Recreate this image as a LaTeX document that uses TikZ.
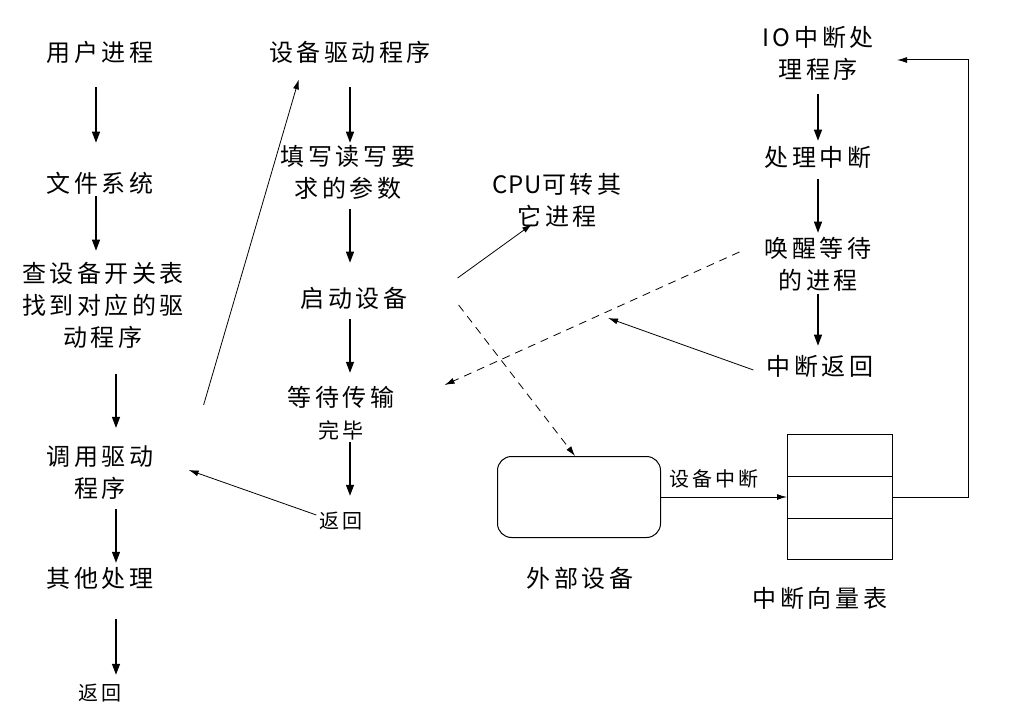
\documentclass[tikz,border=0pt]{standalone}
\usepackage{fontspec}
\usepackage{tikz}
\usetikzlibrary{positioning,arrows.meta,calc}
\newfontfamily\zh[LetterSpace=15]{Noto Sans CJK SC}

\begin{document}
\begin{tikzpicture}[x=1pt,y=-1pt,
      lbl/.style={font=\zh\fontsize{24}{32}\selectfont,align=center,inner sep=0pt},
      small/.style={lbl,font=\zh\fontsize{20}{26}\selectfont},
      arrow/.style={-{Triangle[length=11pt,width=8pt]},line width=1.3pt},
      thinarrow/.style={-{Latex[length=10pt,width=6pt]},line width=0.8pt},
      dasharrow/.style={thinarrow,dash pattern=on 8pt off 6pt}]
    \useasboundingbox (0,0) rectangle (1018,722);
    % user side
    \node[lbl] (u1) at (100,52) {用户进程};
    \node[lbl] (u2) at (100,183) {文件系统};
    \node[lbl] (u3) at (103,305) {查设备开关表\\找到对应的驱\\动程序};
    \node[lbl] (u4) at (100,473) {调用驱动\\程序};
    \node[lbl] (u5) at (100,578) {其他处理};
    \node[small] (u6) at (100,693) {返回};
    % driver
    \node[lbl] (d1) at (350,52) {设备驱动程序};
    \node[lbl] (d2) at (348,172) {填写读写要\\求的参数};
    \node[lbl] (d3) at (354,298) {启动设备};
    \node[lbl] (d4) at (341,413) {等待传输\\{\fontsize{21}{26}\selectfont 完毕}};
    \node[small] (d5) at (341,521) {返回};
    \node[lbl] (c1) at (557,200) {{\addfontfeature{LetterSpace=4}CPU}可转其\\它进程};
    % device and vector table
    \node[draw,rounded corners=14pt,minimum width=163pt,minimum height=81pt,line width=1pt] (ext) at (579,497) {};
    \node[lbl] (extlbl) at (580,578) {外部设备};
    \node[draw,minimum width=105pt,minimum height=125pt,line width=1pt] (tab) at (840,497) {};
    \draw[line width=1pt] ($(tab.north west)!1/3!(tab.south west)$) -- ($(tab.north east)!1/3!(tab.south east)$);
    \draw[line width=1pt] ($(tab.north west)!2/3!(tab.south west)$) -- ($(tab.north east)!2/3!(tab.south east)$);
    \node[lbl] (tablbl) at (820,598) {中断向量表};
    % interrupt handler
    \node[lbl] (i1) at (818,53) {IO中断处\\理程序};
    \node[lbl] (i2) at (818,157) {处理中断};
    \node[lbl] (i3) at (818,264) {唤醒等待\\的进程};
    \node[lbl] (i4) at (820,366) {中断返回};
    \coordinate (ret) at (608,318);

    \draw[arrow,shorten <=24pt,shorten >=29pt] ([xshift=-4pt]u1.south) -- ([xshift=-4pt]u2.north);
    \draw[arrow,shorten <=2pt,shorten >=11pt] ([xshift=-4pt]u2.south) -- ([xshift=-7pt]u3.north);
    \draw[arrow,shorten <=26pt,shorten >=18pt] ([xshift=13pt]u3.south) -- ([xshift=16pt]u4.north);
    \draw[arrow,shorten <=9pt,shorten >=4pt] ([xshift=16pt]u4.south) -- ([xshift=16pt]u5.north);
    \draw[arrow,shorten <=30pt,shorten >=9pt] ([xshift=16pt]u5.south) -- ([xshift=16pt]u6.north);

    \draw[arrow,shorten <=24pt,shorten >=2pt] (d1.south) -- (d2.north -| d1.south);
    \draw[arrow,shorten <=10pt,shorten >=24pt] (d2.south -| d1.south) -- (d3.north -| d1.south);
    \draw[arrow,shorten <=10pt,shorten >=13pt] (d3.south -| d1.south) -- (d4.north -| d1.south);
    \draw[arrow,shorten <=2pt,shorten >=16pt] (d4.south -| d1.south) -- (d5.north -| d1.south);

    \draw[arrow,shorten <=14pt,shorten >=5pt] (i1.south) -- (i2.north);
    \draw[arrow,shorten <=11pt,shorten >=4pt] (i2.south) -- (i3.north);
    \draw[arrow,shorten <=3pt,shorten >=9pt] (i3.south) -- (i4.north -| i3.south);

    \draw[thinarrow] ($(u4.east)+(50,-68)$) -- ($(d1.south west)+(30,16)$);
    \draw[thinarrow] ($(d5.west)+(-3,-6)$) -- ($(u4.east)+(35,-3)$);
    \draw[thinarrow] ($(d3.east)+(50,-20)$) -- ($(c1.south)+(-25,-3)$);
    \draw[dasharrow] ($(d3.east)+(51,7)$) -- ($(ext.north)+(-4,0)$);
    \draw[dasharrow] ($(i3.west)+(-25,-12)$) -- ($(d4.east)+(50,-28)$);
    \draw[thinarrow] ($(i4.west)+(-13,4)$) -- (ret);

    \draw[thinarrow,line width=1pt] (ext.east) -- (tab.west)
      node[small,midway,above=8pt,xshift=-10pt] (irq) {设备中断};
    \draw[thinarrow,line width=1pt] (tab.east) -- ++(75,0) |- ($(i1.east -| tab.east)+(4,7)$);
  \end{tikzpicture}
\end{document}
